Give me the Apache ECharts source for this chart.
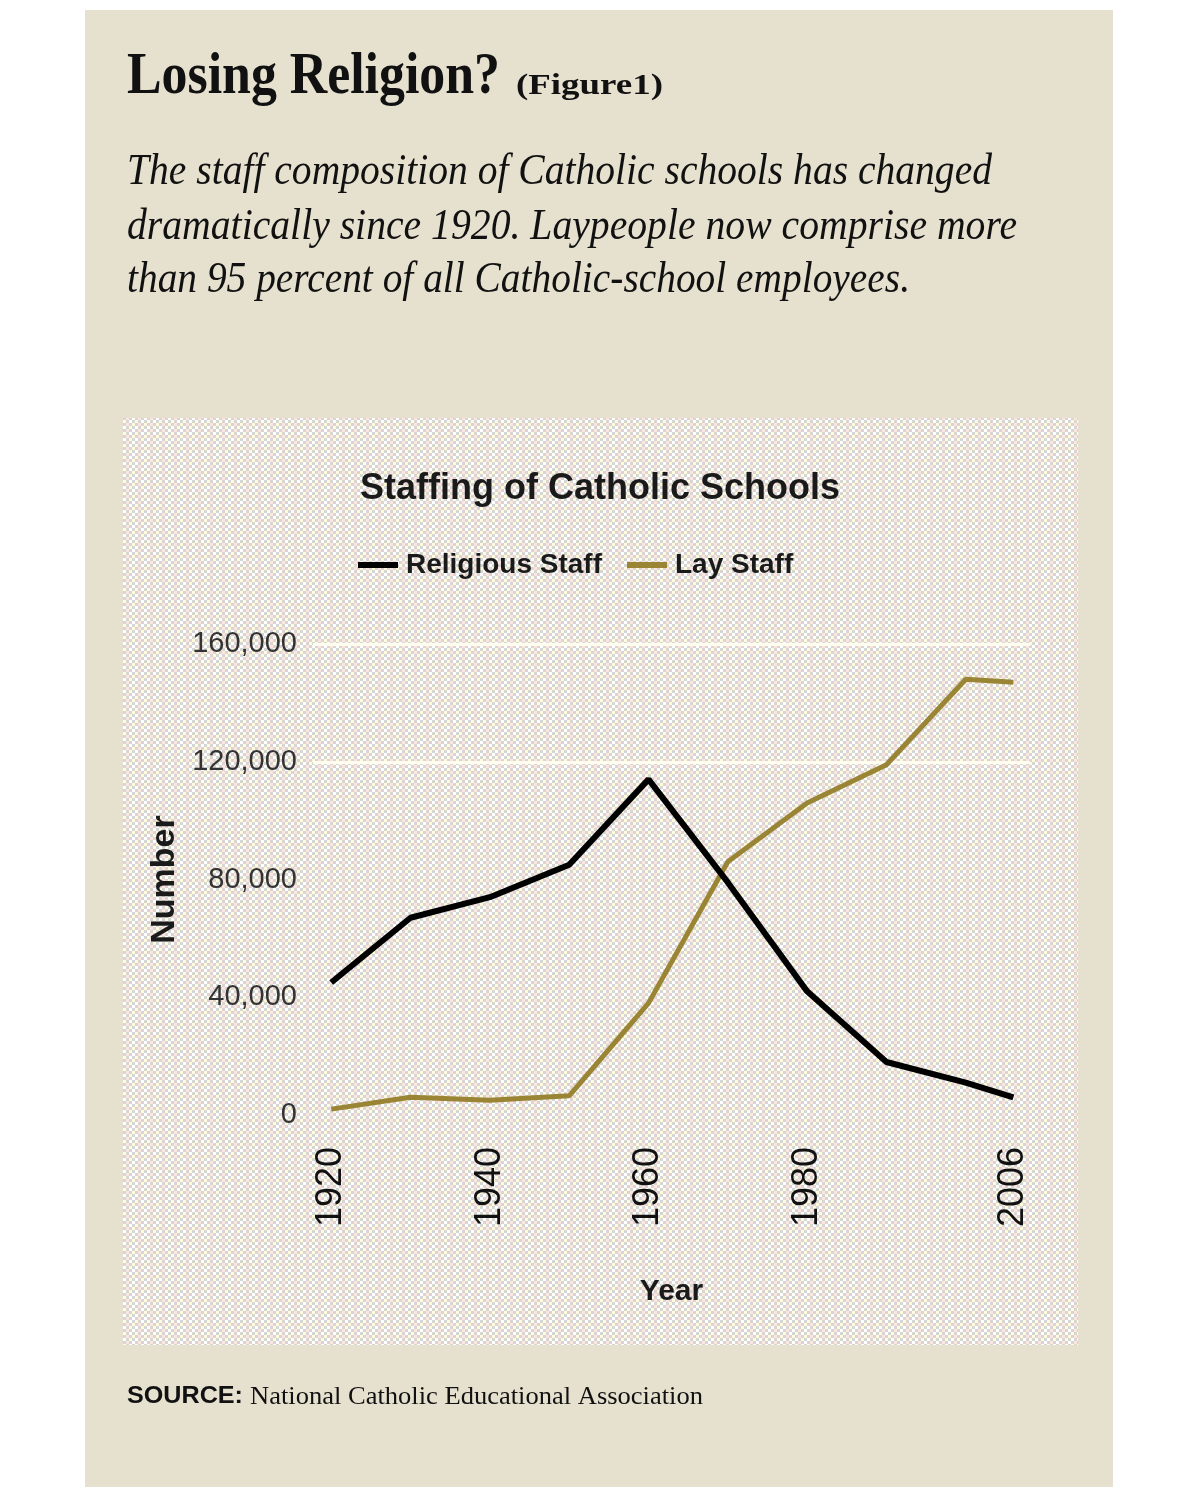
<!DOCTYPE html>
<html>
<head>
<meta charset="utf-8">
<script src="https://cdn.jsdelivr.net/npm/echarts@6/dist/echarts.min.js"></script>
<style>
html,body{margin:0;padding:0;background:#ffffff;}
#main{width:1200px;height:1500px;}
</style>
</head>
<body>
<div id="main"></div>
<script>
// ---- data ----
const years = [1920, 1930, 1940, 1950, 1960, 1970, 1980, 1990, 2000, 2006];
const religiousStaff = [45000, 67000, 74000, 85000, 114000, 79000, 42000, 18000, 11000, 6000];
const layStaff = [2000, 6000, 5000, 6500, 38000, 86000, 106000, 119000, 148000, 147000];
const xTickLabels = [1920, 1940, 1960, 1980, 2006];
const gridLineValues = [120000, 160000];
const seriesNames = ['Religious Staff', 'Lay Staff'];

// ---- helpers ----
const measureCtx = document.createElement('canvas').getContext('2d');
function fitScale(text, font, target) {
  measureCtx.font = font;
  return target / measureCtx.measureText(text).width;
}
function headText(text, x, y, family, size, weight, style, target, color) {
  const font = style + ' ' + weight + ' ' + size + 'px ' + family;
  const s = target ? fitScale(text, font, target) : 1;
  return {
    type: 'text', x: x, y: y, scaleX: s, z: 10,
    style: {
      text: text, fill: color || '#111',
      fontFamily: family, fontSize: size, fontWeight: weight, fontStyle: style,
      align: 'left', verticalAlign: 'middle'
    }
  };
}

// checker pattern for chart area (3px cells)
const cell = 3;
const pc = document.createElement('canvas');
pc.width = cell * 4; pc.height = cell * 4;
const pctx = pc.getContext('2d');
const lightCells = ['#fffbdc', '#ffffff', '#fffbdc', '#ffe4e0', '#ffffff', '#fffbdc', '#ffffff', '#ffe4e0'];
let li = 0;
for (let j = 0; j < 4; j++) {
  for (let i = 0; i < 4; i++) {
    if ((i + j) % 2 === 0) {
      pctx.fillStyle = '#d6d6d5';
    } else {
      pctx.fillStyle = lightCells[li % lightCells.length];
      li++;
    }
    pctx.fillRect(i * cell, j * cell, cell, cell);
  }
}

const serifFam = '"Liberation Serif", "DejaVu Serif", serif';
const sansFam = '"Liberation Sans", Arial, sans-serif';

const chart = echarts.init(document.getElementById('main'), null, {renderer: 'canvas'});

const option = {
  animation: false,
  backgroundColor: '#ffffff',
  graphic: [
    {type: 'rect', z: -20, shape: {x: 85, y: 10, width: 1028, height: 1477}, style: {fill: '#e6e0cf'}},
    {type: 'rect', z: -19, shape: {x: 123, y: 418, width: 955, height: 927}, style: {fill: {image: pc, repeat: 'repeat'}}},
    headText('Losing Religion?', 127, 77, serifFam, 60, 'bold', 'normal', 373, '#111'),
    headText('(Figure1)', 516, 86, serifFam, 30, 'bold', 'normal', 147, '#111'),
    headText('The staff composition of Catholic schools has changed', 127, 172, serifFam, 45, 'normal', 'italic', 865, '#111'),
    headText('dramatically since 1920. Laypeople now comprise more', 127, 227, serifFam, 45, 'normal', 'italic', 890, '#111'),
    headText('than 95 percent of all Catholic-school employees.', 127, 280, serifFam, 45, 'normal', 'italic', 783, '#111'),
    headText('SOURCE:', 127, 1397, sansFam, 23, 'bold', 'normal', 116, '#111'),
    headText('National Catholic Educational Association', 250, 1397, serifFam, 25, 'normal', 'normal', 453, '#111')
  ],
  title: {
    text: 'Staffing of Catholic Schools',
    left: 'center',
    top: 466,
    textStyle: {fontFamily: sansFam, fontSize: 36, fontWeight: 'bold', color: '#1a1a1a'}
  },
  legend: {
    data: seriesNames,
    left: 353,
    top: 546,
    icon: 'rect',
    itemWidth: 40,
    itemHeight: 6,
    itemGap: 25,
    textStyle: {fontFamily: sansFam, fontSize: 28, fontWeight: 'bold', color: '#1a1a1a', padding: [0, 0, 0, 3]}
  },
  grid: {left: 313, right: 170, top: 644, bottom: 385, containLabel: false},
  xAxis: {
    type: 'value',
    min: 1917.7,
    max: 2008.1,
    name: 'Year',
    nameLocation: 'middle',
    nameGap: 162,
    nameTextStyle: {fontFamily: sansFam, fontSize: 30, fontWeight: 'bold', color: '#1a1a1a'},
    axisLine: {show: false},
    axisTick: {show: false},
    splitLine: {show: false},
    axisLabel: {
      customValues: xTickLabels,
      rotate: 90,
      margin: 32,
      fontFamily: sansFam,
      fontSize: 36,
      color: '#111',
      formatter: v => String(v)
    }
  },
  yAxis: {
    type: 'value',
    min: 0,
    max: 160000,
    interval: 40000,
    name: 'Number',
    nameLocation: 'middle',
    nameGap: 124,
    nameTextStyle: {fontFamily: sansFam, fontSize: 34, fontWeight: 'bold', color: '#1a1a1a'},
    axisLine: {show: false},
    axisTick: {show: false},
    splitLine: {show: false},
    axisLabel: {
      margin: 16,
      fontFamily: sansFam,
      fontSize: 29,
      color: '#333',
      formatter: v => v.toLocaleString('en-US')
    }
  },
  series: [
    {
      name: seriesNames[0],
      type: 'line',
      data: years.map((y, i) => [y, religiousStaff[i]]),
      showSymbol: false,
      symbol: 'none',
      lineStyle: {color: '#000000', width: 6},
      itemStyle: {color: '#000000'},
      z: 3,
      markLine: {
        silent: true,
        symbol: 'none',
        label: {show: false},
        z: 1,
        lineStyle: {color: '#fffdf0', width: 3, type: 'solid'},
        data: gridLineValues.map(v => ({yAxis: v}))
      }
    },
    {
      name: seriesNames[1],
      type: 'line',
      data: years.map((y, i) => [y, layStaff[i]]),
      showSymbol: false,
      symbol: 'none',
      lineStyle: {color: '#9a8535', width: 5},
      itemStyle: {color: '#9a8535'},
      z: 2
    }
  ]
};
chart.setOption(option);
</script>
</body>
</html>
